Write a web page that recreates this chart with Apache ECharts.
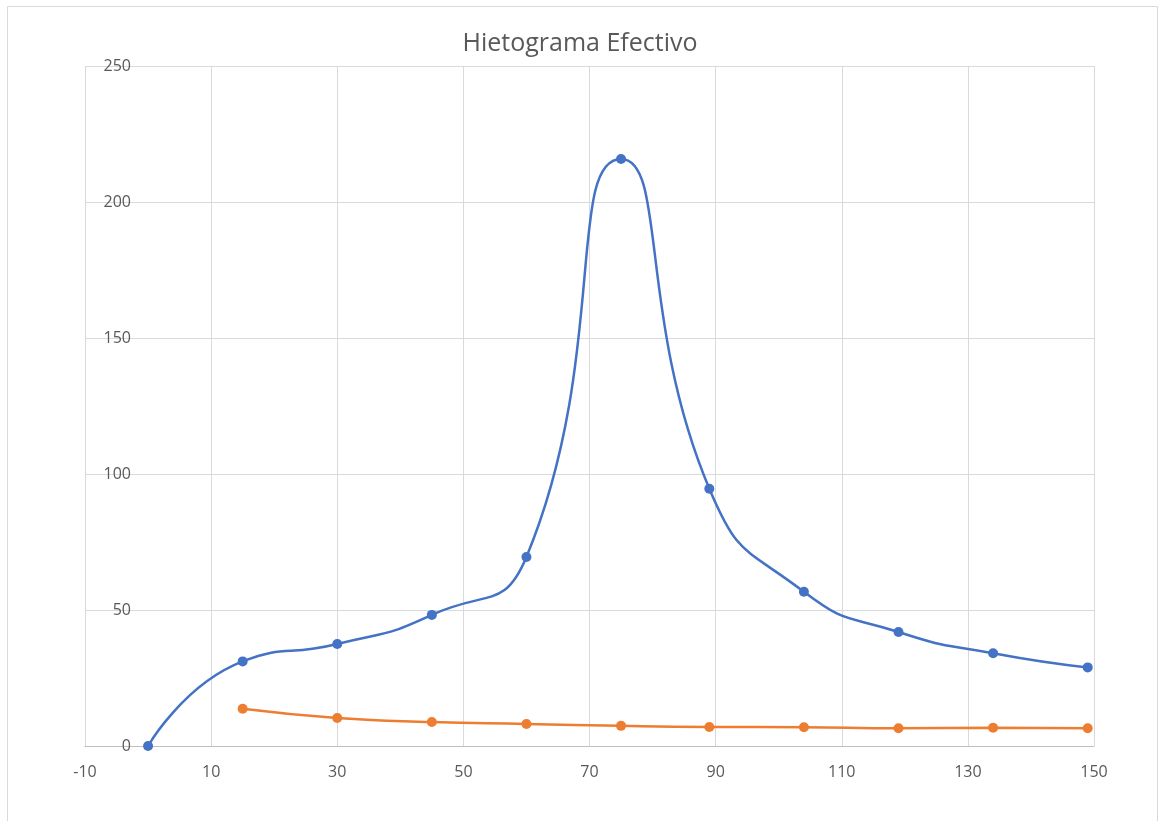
<!DOCTYPE html>
<html>
<head>
<meta charset="utf-8">
<script src="https://cdn.jsdelivr.net/npm/echarts@6/dist/echarts.min.js"></script>
<style>
html,body{margin:0;padding:0;background:#fff;}
#chart{width:1160px;height:821px;}
</style>
</head>
<body>
<div id="chart"></div>
<script>
const titleText = 'Hietograma Efectivo';
const blueX = [0, 15, 30, 45, 60, 75, 89, 104, 119, 134, 149];
const blueY = [0, 31.1, 37.5, 48.2, 69.5, 215.8, 94.6, 56.7, 41.9, 34.1, 28.9];
const orangeX = [15, 30, 45, 60, 75, 89, 104, 119, 134, 149];
const orangeY = [13.7, 10.3, 8.8, 8.1, 7.4, 7.0, 6.9, 6.5, 6.7, 6.5];

const pair = (xs, ys) => xs.map((x, i) => [x, ys[i]]);

const chart = echarts.init(document.getElementById('chart'));
const font = '"Open Sans", "Noto Sans", sans-serif';
chart.setOption({
  animation: false,
  backgroundColor: '#fff',
  graphic: [{
    type: 'rect',
    shape: {x: 7.5, y: 6.5, width: 1150, height: 830},
    style: {fill: 'none', stroke: '#d9d9d9', lineWidth: 1},
    silent: true
  }],
  title: {
    text: titleText,
    left: 'center',
    top: 26,
    textStyle: {fontFamily: font, fontSize: 25, fontWeight: 'normal', color: '#595959'}
  },
  grid: {left: 85, right: 66, top: 66, bottom: 75, containLabel: false},
  xAxis: {
    type: 'value',
    min: -10, max: 150, interval: 20,
    axisLine: {onZero: true, lineStyle: {color: '#bfbfbf', width: 1}},
    axisTick: {show: false},
    axisLabel: {color: '#595959', fontFamily: font, fontSize: 16, margin: 18},
    splitLine: {show: true, lineStyle: {color: '#d9d9d9', width: 1}}
  },
  yAxis: {
    type: 'value',
    min: 0, max: 250, interval: 50,
    offset: -62,
    axisLine: {show: false},
    axisTick: {show: false},
    axisLabel: {color: '#595959', fontFamily: font, fontSize: 16, margin: 16},
    splitLine: {show: true, lineStyle: {color: '#d9d9d9', width: 1}}
  },
  series: [
    {
      type: 'line',
      data: pair(blueX, blueY),
      smooth: 0.55,
      symbol: 'circle',
      symbolSize: 10,
      lineStyle: {color: '#4472C4', width: 2.5},
      itemStyle: {color: '#4472C4'}
    },
    {
      type: 'line',
      data: pair(orangeX, orangeY),
      smooth: 0.5,
      symbol: 'circle',
      symbolSize: 10,
      lineStyle: {color: '#ED7D31', width: 2.5},
      itemStyle: {color: '#ED7D31'}
    }
  ]
});
</script>
</body>
</html>
